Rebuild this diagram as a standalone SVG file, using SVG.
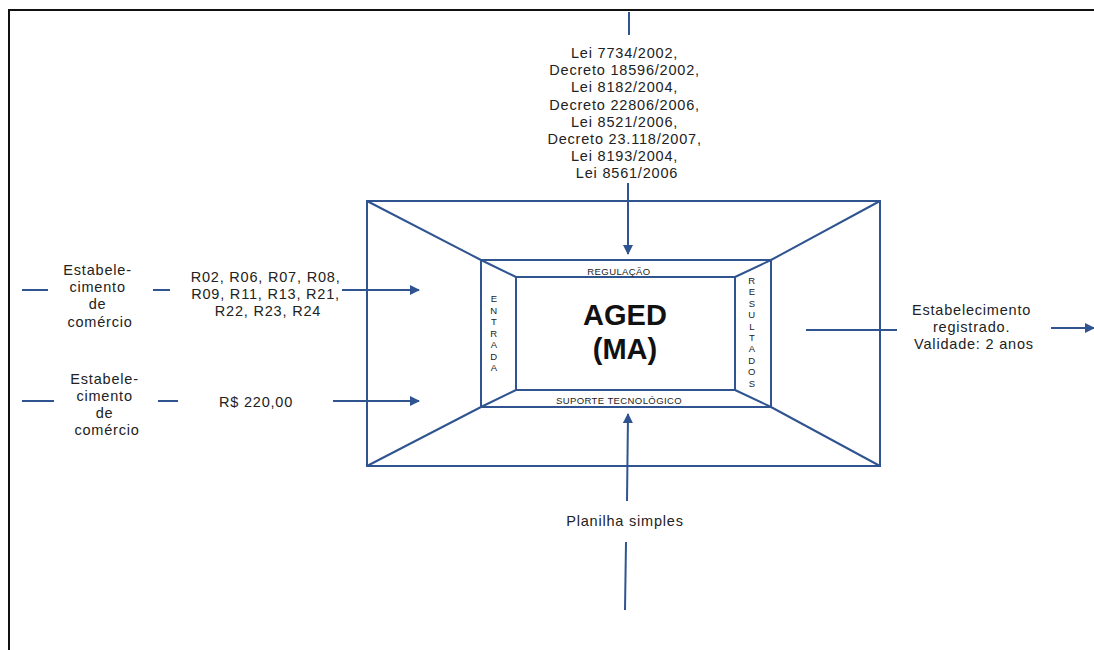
<svg xmlns="http://www.w3.org/2000/svg" width="1094" height="650" viewBox="0 0 1094 650">
  <defs>
    <marker id="arrow" markerWidth="10" markerHeight="10" refX="9" refY="5" orient="auto" markerUnits="userSpaceOnUse">
      <path d="M0,0 L10,5 L0,10 Z" fill="#2f5490"/>
    </marker>
    <style>
      .frame { fill: none; stroke: #111; stroke-width: 2; }
      .box { fill: none; stroke: #2f5490; stroke-width: 2; }
      .conn { fill: none; stroke: #2f5490; stroke-width: 2; }
      .lbl { font-family: "Liberation Sans", Arial, sans-serif; font-size: 14.5px; letter-spacing: 0.8px; fill: #222; text-anchor: middle; }
      .small { font-family: "Liberation Sans", Arial, sans-serif; font-size: 9.5px; letter-spacing: 0.4px; fill: #222; text-anchor: middle; }
      .title { font-family: "Liberation Sans", Arial, sans-serif; font-size: 29px; font-weight: bold; fill: #111; text-anchor: middle; }
    </style>
  </defs>

  <rect width="1094" height="650" fill="#fff"/>

  <!-- page frame (top and left edges) -->
  <path class="frame" d="M9,650 L9,10 L1094,10"/>

  <!-- central nested-box figure -->
  <g id="aged-box">
    <rect class="box" x="367" y="201" width="513" height="265"/>
    <rect class="box" x="481" y="260" width="290" height="147"/>
    <rect class="box" x="516" y="277" width="219" height="113"/>
    <path class="box" d="M367,201 L481,260 L516,277 M880,201 L771,260 L735,277 M367,466 L481,407 L516,390 M880,466 L771,407 L735,390"/>
    <text class="title" x="625" y="325">AGED</text>
    <text class="title" x="625" y="359">(MA)</text>
    <text class="small" x="619" y="274.5">REGULAÇÃO</text>
    <text class="small" x="619" y="403.5">SUPORTE TECNOLÓGICO</text>
    <text class="small" x="494">
      <tspan x="494" y="302">E</tspan><tspan x="494" y="313.5">N</tspan><tspan x="494" y="325">T</tspan><tspan x="494" y="336.5">R</tspan><tspan x="494" y="348">A</tspan><tspan x="494" y="359.5">D</tspan><tspan x="494" y="371">A</tspan>
    </text>
    <text class="small" x="752">
      <tspan x="752" y="284">R</tspan><tspan x="752" y="295.4">E</tspan><tspan x="752" y="306.8">S</tspan><tspan x="752" y="318.2">U</tspan><tspan x="752" y="329.6">L</tspan><tspan x="752" y="341">T</tspan><tspan x="752" y="352.4">A</tspan><tspan x="752" y="363.8">D</tspan><tspan x="752" y="375.2">O</tspan><tspan x="752" y="386.6">S</tspan>
    </text>
  </g>

  <!-- regulation input (top) -->
  <g id="regulacao">
    <text class="lbl">
      <tspan x="627" y="58">Lei 7734/2002,</tspan>
      <tspan x="627" y="75">Decreto 18596/2002,</tspan>
      <tspan x="627" y="92">Lei 8182/2004,</tspan>
      <tspan x="627" y="110">Decreto 22806/2006,</tspan>
      <tspan x="627" y="127">Lei 8521/2006,</tspan>
      <tspan x="627" y="144">Decreto 23.118/2007,</tspan>
      <tspan x="627" y="161">Lei 8193/2004,</tspan>
      <tspan x="627" y="178">Lei 8561/2006</tspan>
    </text>
  </g>

  <!-- first entry row -->
  <g id="entrada-1">
    <text class="lbl">
      <tspan x="100" y="275">Estabele-</tspan>
      <tspan x="100" y="292">cimento</tspan>
      <tspan x="100" y="309">de</tspan>
      <tspan x="100" y="327">comércio</tspan>
    </text>
    <text class="lbl">
      <tspan x="268" y="282">R02, R06, R07, R08,</tspan>
      <tspan x="268" y="299">R09, R11, R13, R21,</tspan>
      <tspan x="268" y="316">R22, R23, R24</tspan>
    </text>
  </g>

  <!-- second entry row -->
  <g id="entrada-2">
    <text class="lbl">
      <tspan x="107" y="384">Estabele-</tspan>
      <tspan x="107" y="401">cimento</tspan>
      <tspan x="107" y="418">de</tspan>
      <tspan x="107" y="435">comércio</tspan>
    </text>
    <text class="lbl" x="256" y="407">R$ 220,00</text>
  </g>

  <!-- result output -->
  <g id="resultado">
    <text class="lbl">
      <tspan x="974" y="315">Estabelecimento</tspan>
      <tspan x="974" y="332">registrado.</tspan>
      <tspan x="974" y="349">Validade: 2 anos</tspan>
    </text>
  </g>

  <!-- technology support input -->
  <g id="suporte">
    <text class="lbl" x="625" y="526">Planilha simples</text>
  </g>

  <!-- connectors -->
  <g id="connectors">
    <line class="conn" x1="629" y1="12" x2="629" y2="35"/>
    <line class="conn" x1="628" y1="183" x2="628" y2="254" marker-end="url(#arrow)"/>

    <line class="conn" x1="22" y1="290" x2="48" y2="290"/>
    <line class="conn" x1="153" y1="290" x2="170" y2="290"/>
    <line class="conn" x1="342" y1="290" x2="419" y2="290" marker-end="url(#arrow)"/>

    <line class="conn" x1="22" y1="401" x2="54" y2="401"/>
    <line class="conn" x1="158" y1="401" x2="178" y2="401"/>
    <line class="conn" x1="333" y1="401" x2="419" y2="401" marker-end="url(#arrow)"/>

    <line class="conn" x1="806" y1="330" x2="897" y2="330"/>
    <line class="conn" x1="1051" y1="328" x2="1094" y2="328" marker-end="url(#arrow)"/>

    <line class="conn" x1="627" y1="501" x2="628" y2="414" marker-end="url(#arrow)"/>
    <line class="conn" x1="625" y1="610" x2="626" y2="542"/>
  </g>
</svg>
